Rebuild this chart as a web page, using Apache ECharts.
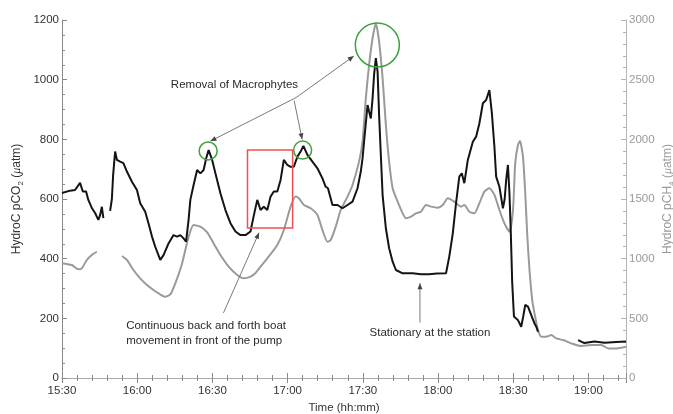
<!DOCTYPE html>
<html>
<head>
<meta charset="utf-8">
<script src="https://cdn.jsdelivr.net/npm/echarts@6/dist/echarts.min.js"></script>
<style>
  html, body { margin: 0; padding: 0; background: #fff; }
  #chart { width: 673px; height: 414px; }
</style>
</head>
<body>
<div id="chart"></div>
<script>
// Time is in minutes since midnight (15:30 = 930).
const xTickStart = 930;   // 15:30
const xTickEnd = 1155;    // 19:15
const xTickStep = 30;

// HydroC pCO2 (µatm), left axis
const co2Times = [930, 933.2, 935.2, 937.2, 938.3, 939.6, 940.5, 941.9, 943.2, 944.5,
  945.2, 945.9, 946.5, 947.8, 949.2, 949.9, 950.4, 950.8, 951.2, 951.9,
  953.2, 954.5, 955.9, 957.9, 959.9, 961.2, 963.2, 964.5, 965.9, 967.2,
  969.2, 970.5, 972.5, 974.5, 975.9, 977.2, 978.5, 979.5, 980.5, 981.2,
  982.5, 983.9, 985.2, 986.5, 987.5, 988.5, 989.9, 991.2, 993.2, 995.2,
  997.2, 999.2, 1001.2, 1003.2, 1005.2, 1006.4, 1007.9, 1009.2, 1010.5, 1011.9,
  1013.2, 1014.5, 1015.9, 1017.2, 1018.5, 1019.9, 1021.2, 1022.5, 1023.9, 1025.2,
  1026.3, 1027.9, 1029.9, 1031.9, 1033.9, 1035.2, 1036.1, 1037.9, 1039.9, 1041.9,
  1043.9, 1045.9, 1047.9, 1049.2, 1049.9, 1050.5, 1051.9, 1052.5, 1053.2, 1053.9,
  1054.5, 1055.2, 1055.9, 1056.5, 1057.2, 1057.9, 1059.2, 1060.5, 1061.9, 1063.2,
  1065.9, 1069.9, 1073.2, 1076.4, 1079.6, 1083.2, 1083.9, 1084.5, 1085.9, 1087.2,
  1088.5, 1089.5, 1090.5, 1091.9, 1093.9, 1095.2, 1096.5, 1097.9, 1099.2, 1100.5,
  1101.5, 1102.5, 1103.2, 1104.5, 1105.9, 1106.6, 1107.2, 1107.9, 1108.5, 1109.0,
  1109.6, 1110.3, 1111.9, 1113.2, 1114.0, 1114.8, 1115.9, 1117.2, 1118.5, 1119.2,
  1119.9, 1128, 1135.9, 1138.4, 1142.4, 1146.4, 1151.2, 1155];
const co2Values = [620, 628, 630, 654, 625, 625, 597, 570, 553, 530,
  546, 574, 536, null, 560, 600, 680, 720, 759, 731,
  725, 720, 692, 658, 630, 586, 557, 519, 474, 440,
  396, 412, 451, 479, 474, 479, 468, 457, 530, 597,
  647, 697, 686, 697, 736, 764, 731, 686, 619, 563,
  519, 491, 479, 479, 491, 540, 597, 563, 574, 563,
  608, 625, 625, 664, 731, 714, 708, 708, 742, 759,
  778, 748, 725, 703, 669, 641, 636, 580, 580, 569,
  580, 591, 636, 692, 736, 792, 915, 893, 870, 937,
  1016, 1072, 1027, 882, 747, 613, 502, 435, 390, 362,
  351, 351, 348, 348, 350, 351, 356, 407, 485, 586,
  675, 686, 653, 731, 792, 809, 853, 921, 932, 965,
  887, 776, 675, 641, 569, 600, 664, 714, 620, 500,
  320, 206, 194, 172, 206, 245, 239, 211, 183, 172,
  155, null, 127, 117, 122, 118, 121, 122];

// HydroC pCH4 (µatm), right axis
const ch4Times = [930, 931.9, 933.9, 936.5, 937.9, 939.9, 941.9, 943.9, 948, 953.9,
  955.9, 958.5, 961.2, 963.9, 966.5, 968.9, 971.2, 973.2, 975.2, 977.9,
  980.5, 982.5, 985.2, 987.9, 990.5, 993.2, 996.5, 999.9, 1002.5, 1005.2,
  1007.2, 1009.2, 1011.9, 1015.9, 1018.5, 1021.2, 1023.2, 1024.5, 1026.5, 1029.2,
  1031.9, 1033.9, 1035.9, 1037.2, 1039.2, 1041.2, 1043.9, 1045.9, 1048.5, 1049.9,
  1051.2, 1052.5, 1053.9, 1055.2, 1056.5, 1057.9, 1059.2, 1060.5, 1061.9, 1063.9,
  1065.9, 1067.2, 1069.2, 1071.2, 1073.2, 1075.2, 1077.2, 1079.9, 1081.9, 1083.9,
  1086.5, 1089.2, 1090.5, 1092.5, 1094.5, 1096.5, 1098.5, 1100.5, 1102.5, 1104.5,
  1106.5, 1108.5, 1109.9, 1110.8, 1111.9, 1112.7, 1113.9, 1114.8, 1115.6, 1116.5,
  1117.6, 1118.5, 1119.9, 1121.2, 1123.2, 1125.2, 1127.2, 1129.9, 1133.2, 1137.2,
  1141.2, 1145.2, 1147.9, 1151.2, 1155];
const ch4Values = [961, 955, 947, 911, 919, 989, 1031, 1058, null, 1022,
  989, 905, 835, 779, 737, 704, 681, 700, 793, 960,
  1184, 1282, 1268, 1220, 1128, 1031, 933, 863, 835, 849,
  880, 933, 1003, 1115, 1240, 1436, 1521, 1506, 1450, 1422,
  1366, 1240, 1142, 1156, 1268, 1408, 1520, 1617, 1813, 1980,
  2344, 2623, 2847, 2972, 2818, 2511, 2120, 1813, 1590, 1478,
  1380, 1338, 1352, 1380, 1394, 1450, 1436, 1427, 1450, 1506,
  1478, 1436, 1450, 1394, 1380, 1464, 1562, 1590, 1534, 1408,
  1296, 1226, 1400, 1799, 1953, 1985, 1855, 1550, 1200, 905,
  650, 542, 402, 346, 346, 360, 332, 318, 290, 268,
  276, 276, 248, 248, 262];

const co2Axis = { min: 0, max: 1200, step: 200 };
const ch4Axis = { min: 0, max: 3000, step: 500 };

function clock(m) {
  if (m >= xTickEnd) return '';
  const h = Math.floor(m / 60), mm = Math.round(m % 60);
  return h + ':' + (mm < 10 ? '0' : '') + mm;
}
const plain = v => String(v);

const font = '"Liberation Sans", Arial, Helvetica, sans-serif';
const chart = echarts.init(document.getElementById('chart'), null, { renderer: 'canvas' });

const axisGrey = '#8a8a8a';
const tickCommon = { show: true, inside: true, length: 5, lineStyle: { color: axisGrey, width: 1 } };
const minorCommon = { show: true, length: 3, lineStyle: { color: axisGrey, width: 1 } };

chart.setOption({
  animation: false,
  backgroundColor: '#ffffff',
  grid: { left: 62, right: 47, top: 20, bottom: 36, containLabel: false, outerBoundsMode: 'none' },
  xAxis: [{
    type: 'value', min: xTickStart, max: xTickEnd, interval: xTickStep,
    position: 'bottom',
    name: 'Time (hh:mm)', nameLocation: 'middle', nameGap: 23,
    nameTextStyle: { fontFamily: font, fontSize: 11.5, color: '#333' },
    axisLine: { show: true, lineStyle: { color: axisGrey, width: 1 } },
    axisTick: tickCommon, minorTick: Object.assign({ splitNumber: 5 }, minorCommon),
    axisLabel: { formatter: clock, fontFamily: font, fontSize: 11.5, color: '#333', margin: 7 },
    splitLine: { show: false }
  }, {
    type: 'value', min: xTickStart, max: xTickEnd, interval: xTickStep,
    position: 'top',
    axisLine: { show: true, lineStyle: { color: '#aaa', width: 1 } },
    axisTick: tickCommon, minorTick: Object.assign({ splitNumber: 5 }, minorCommon),
    axisLabel: { show: false }, splitLine: { show: false }
  }],
  yAxis: [{
    type: 'value', min: co2Axis.min, max: co2Axis.max, interval: co2Axis.step,
    position: 'left',
    name: '{t|HydroC pCO}{s|2}{t| (}{m|μ}{t|atm)}',
    nameLocation: 'middle', nameGap: 37, nameRotate: 90, nameMoveOverlap: false,
    nameTextStyle: {
      rich: {
        t: { fontFamily: font, fontSize: 12, color: '#333', lineHeight: 16 },
        s: { fontFamily: font, fontSize: 8, color: '#333', lineHeight: 16, verticalAlign: 'bottom', padding: [7, 0, 0, 0] },
        m: { fontFamily: 'serif', fontStyle: 'italic', fontSize: 12, color: '#333', lineHeight: 16 }
      }
    },
    axisLine: { show: true, lineStyle: { color: axisGrey, width: 1 } },
    axisTick: tickCommon, minorTick: Object.assign({ splitNumber: 4 }, minorCommon),
    axisLabel: { formatter: plain, fontFamily: font, fontSize: 11.5, color: '#333', margin: 3 },
    splitLine: { show: false }
  }, {
    type: 'value', min: ch4Axis.min, max: ch4Axis.max, interval: ch4Axis.step,
    position: 'right',
    name: '{t|HydroC pCH}{s|4}{t| (}{m|μ}{t|atm)}',
    nameLocation: 'middle', nameGap: 34, nameRotate: 90, nameMoveOverlap: false,
    nameTextStyle: {
      rich: {
        t: { fontFamily: font, fontSize: 12, color: '#999', lineHeight: 16 },
        s: { fontFamily: font, fontSize: 8, color: '#999', lineHeight: 16, verticalAlign: 'bottom', padding: [7, 0, 0, 0] },
        m: { fontFamily: 'serif', fontStyle: 'italic', fontSize: 12, color: '#999', lineHeight: 16 }
      }
    },
    axisLine: { show: true, lineStyle: { color: '#b5b5b5', width: 1 } },
    axisTick: { show: true, inside: true, length: 5, lineStyle: { color: '#b5b5b5' } },
    minorTick: { show: true, splitNumber: 5, length: 3, lineStyle: { color: '#b5b5b5' } },
    axisLabel: { formatter: plain, fontFamily: font, fontSize: 11.5, color: '#999', margin: 3 },
    splitLine: { show: false }
  }],
  series: [{
    name: 'pCH4', type: 'line', xAxisIndex: 0, yAxisIndex: 1,
    data: ch4Times.map((t, i) => [t, ch4Values[i]]),
    showSymbol: false, connectNulls: false, smooth: 0.2,
    lineStyle: { color: '#9a9a9a', width: 2 }, z: 2
  }, {
    name: 'pCO2', type: 'line', xAxisIndex: 0, yAxisIndex: 0,
    data: co2Times.map((t, i) => [t, co2Values[i]]),
    showSymbol: false, connectNulls: false,
    lineStyle: { color: '#141414', width: 2 }, z: 3
  }]
});

// Annotations, anchored in (time, pCO2) coordinates
function px(t, v) { return chart.convertToPixel({ xAxisIndex: 0, yAxisIndex: 0 }, [t, v]); }

const annoGrey = '#7a7a7a';
function arrow(from, to, head) {
  const a = px(from[0], from[1]), b = px(to[0], to[1]);
  const els = [{ type: 'line', shape: { x1: a[0], y1: a[1], x2: b[0], y2: b[1] },
    style: { stroke: annoGrey, lineWidth: 1 }, z: 10 }];
  if (head) {
    const ang = Math.atan2(b[1] - a[1], b[0] - a[0]);
    const L = 6, W = 2.5;
    const bx = b[0] - L * Math.cos(ang), by = b[1] - L * Math.sin(ang);
    els.push({ type: 'polygon', shape: { points: [
      [b[0], b[1]],
      [bx + W * Math.sin(ang), by - W * Math.cos(ang)],
      [bx - W * Math.sin(ang), by + W * Math.cos(ang)]
    ] }, style: { fill: '#444' }, z: 11 });
  }
  return els;
}
function ring(t, v, r) {
  const c = px(t, v);
  return { type: 'circle', shape: { cx: c[0], cy: c[1], r: r },
    style: { fill: null, stroke: '#3da23d', lineWidth: 1.5 }, z: 12 };
}
function label(t, v, text, align) {
  const p = px(t, v);
  return { type: 'text', x: p[0], y: p[1], z: 12,
    style: { text: text, fontFamily: font, fontSize: 11.5, fill: '#2a2a2a',
      align: align || 'center', verticalAlign: 'middle', lineHeight: 15 } };
}

const bend = [1023.4, 940];
const boxTL = px(1004, 764), boxBR = px(1022, 503);

const graphics = [].concat(
  arrow(bend, [989.2, 794], true),
  arrow(bend, [1046.4, 1079], true),
  arrow([1022.6, 930], [1025.8, 800], true),
  arrow([994.4, 218], [1008.6, 487], true),
  arrow([1072.8, 186], [1072.8, 318], true),
  [
    ring(988.3, 761, 9),
    ring(1026, 764, 9),
    ring(1055.8, 1116, 22),
    { type: 'rect', shape: { x: boxTL[0], y: boxTL[1], width: boxBR[0] - boxTL[0], height: boxBR[1] - boxTL[1] },
      style: { fill: null, stroke: '#f05050', lineWidth: 1.5 }, z: 12 },
    label(998.8, 983, 'Removal of Macrophytes'),
    label(955.6, 150, 'Continuous back and forth boat\nmovement in front of the pump', 'left'),
    label(1076.8, 151, 'Stationary at the station')
  ]
);
chart.setOption({ graphic: graphics });
</script>
</body>
</html>
